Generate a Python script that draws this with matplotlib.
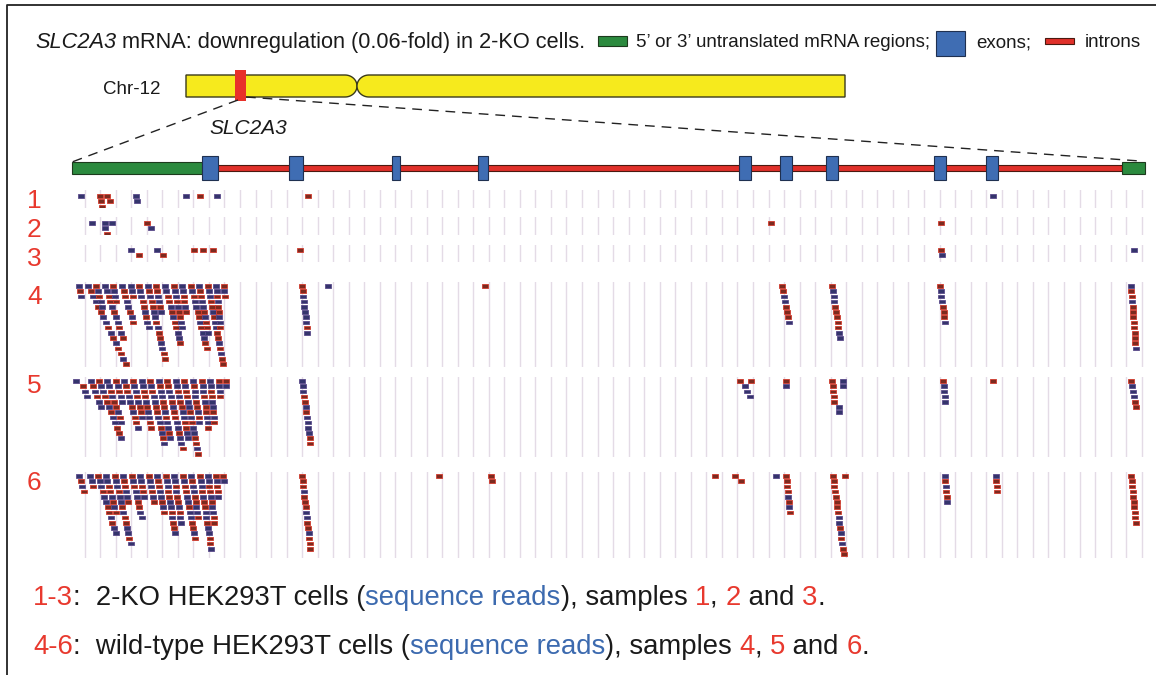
import numpy as np
import matplotlib
matplotlib.use("Agg")
import matplotlib.pyplot as plt
from matplotlib.patches import Rectangle, Polygon
from matplotlib.font_manager import FontProperties

plt.rcParams['font.family'] = ['Liberation Sans', 'DejaVu Sans']

W, H = 1156, 675

# =============================================
# Data (x in gene-track pixel coordinates)
# =============================================

EXON_START = [202, 289, 392, 478, 739, 780, 826, 934, 986]
EXON_END = [218, 303, 400, 488, 751, 792, 838, 946, 998]
UTR_LEFT = (72, 202)
UTR_RIGHT = (1122, 1145)

# reads: (x of first read, first row, number of reads, shift per row, strand colours)
TRACK1 = [(78, 0, 1, 0, "b"), (97, 0, 1, 0, "r"), (104, 0, 1, 0, "r"), (133, 0, 2, 1, "bb"),
          (183, 0, 1, 0, "b"), (197, 0, 1, 0, "r"), (214, 0, 1, 0, "b"), (305, 0, 1, 0, "r"),
          (990, 0, 1, 0, "b"), (98, 1, 2, 0.5, "rr"), (107, 1, 1, 0, "r")]
TRACK2 = [(89, 0, 1, 0, "b"), (102, 0, 2, 0, "bb"), (109, 0, 1, 0, "b"), (144, 0, 2, 4, "rb"),
          (768, 0, 1, 0, "r"), (938, 0, 1, 0, "r"), (104, 2, 1, 0, "r")]
TRACK3 = [(128, 0, 2, 8, "br"), (154, 0, 2, 6, "br"), (191, 0, 1, 0, "r"), (200, 0, 1, 0, "r"),
          (210, 0, 1, 0, "r"), (297, 0, 1, 0, "r"), (938, 0, 2, 1, "rb"), (1131, 0, 1, 0, "b")]
TRACK4 = [(76, 0, 3, 1.0, "brb"), (85, 0, 16, 2.5, "brbbrrbbrbrbrrbr"), (93, 0, 5, 1.5, "rbrbb"),
          (102, 0, 11, 1.8, "bbrrbrbbrbr"), (110, 0, 4, 1.0, "rbbr"), (119, 0, 8, 1.6, "brrbbrbr"),
          (128, 0, 3, 1.0, "bbr"), (136, 0, 9, 1.2, "rbbrrbrbb"), (145, 0, 15, 1.2, "brbrrbbrbrrbbrr"),
          (153, 0, 6, 1.0, "rrbbrb"), (162, 0, 12, 1.4, "bbrrbrbrrbbr"), (171, 0, 9, 1.0, "rbbrbrrbb"),
          (179, 0, 6, 0.8, "bbrrbr"), (188, 0, 13, 1.3, "rbrbbrrbrbbrr"), (196, 0, 10, 1.0, "brrbbrbrrb"),
          (205, 0, 16, 1.0, "rbbrrbrbbrrbrbrr"), (213, 0, 9, 0.5, "bbrbrrbbr"), (221, 0, 3, 0.3, "rbr"),
          (299, 0, 10, 0.6, "rrbbbbbbrb"), (325, 0, 1, 0, "b"), (482, 0, 1, 0, "r"),
          (779, 0, 8, 1.0, "rrbbrrrb"), (829, 0, 11, 0.8, "rbbbrrrrrbb"), (937, 0, 8, 0.7, "rbbbrrrb"),
          (1128, 0, 13, 0.4, "brrbrrrrrrrrb")]
TRACK5 = [(73, 0, 1, 0, "b"), (80, 1, 3, 2.0, "rbb"), (88, 0, 6, 2.0, "brbrbb"), (96, 0, 12, 2.0, "rbbrrbrbbrrb"),
          (104, 0, 9, 1.8, "bbrbrrbrb"), (113, 0, 5, 1.5, "rbrbb"), (121, 0, 10, 1.5, "brrbbrbrrb"),
          (130, 0, 8, 1.3, "rbbrbrrb"), (139, 0, 10, 1.0, "bbrrbrbbrr"), (147, 0, 13, 1.2, "rbrbbrrbbrbrb"),
          (156, 0, 12, 1.0, "brbbrrbrbbrb"), (164, 0, 14, 1.2, "rrbbrbrrbbrbbr"), (173, 0, 12, 1.1, "bbrbrrbbrrbb"),
          (181, 0, 15, 1.0, "rbrrbbrbrbbrrbr"), (190, 0, 9, 0.8, "brbbrrbrb"), (199, 0, 10, 0.7, "rbbrbrrbbr"),
          (207, 0, 9, 0.5, "bbrrbbrbr"), (216, 0, 4, 0.3, "rbbr"), (223, 0, 2, 0.3, "rb"),
          (299, 0, 13, 0.7, "bbbrrbrbbbbrr"),
          (737, 0, 1, 0, "r"), (748, 0, 1, 0, "r"), (742, 1, 3, 2.3, "bbb"), (783, 0, 2, 0, "rb"),
          (829, 0, 5, 0.5, "rrrrr"), (836, 5, 2, 0, "bb"), (840, 0, 2, 0, "bb"), (940, 0, 5, 0.5, "rbbbb"),
          (990, 0, 1, 0, "r"), (1128, 0, 6, 1.0, "rbbbrr")]
TRACK6 = [(76, 0, 4, 1.5, "brbr"), (87, 0, 3, 1.5, "bbr"), (95, 0, 12, 1.6, "rbbrbbrrbrbb"),
          (103, 0, 8, 1.4, "bbrrbrbr"), (112, 0, 14, 1.2, "rbbrbbrbrrbbrb"), (120, 0, 6, 1.0, "brrbbr"),
          (129, 0, 9, 1.2, "rbrbbrrbb"), (137, 0, 5, 1.0, "bbrrb"), (146, 0, 6, 1.0, "rbbrbr"),
          (154, 0, 8, 1.0, "brrbbrbr"), (163, 0, 12, 0.8, "rbbrrbbrbrrb"), (171, 0, 10, 0.8, "bbrbrrbrbb"),
          (180, 0, 13, 1.0, "rbrrbbrbbrrbr"), (188, 0, 9, 0.9, "brbbrrbbr"), (197, 0, 15, 0.8, "rbbrbrrbbrbbrrb"),
          (205, 0, 10, 0.7, "bbrrbrbbrr"), (213, 0, 5, 0.5, "rbrrb"), (220, 0, 2, 0.5, "rb"),
          (299, 0, 15, 0.6, "rrrbrrrbbrrbrrr"), (436, 0, 1, 0, "r"), (488, 0, 2, 0.5, "rr"),
          (712, 0, 1, 0, "r"), (732, 0, 1, 0, "r"), (738, 1, 1, 0, "r"), (773, 0, 1, 0, "b"),
          (783, 0, 8, 0.5, "rrrrbrbr"), (830, 0, 16, 0.7, "rrrrrrrrbbrbrbrr"), (842, 0, 1, 0, "r"),
          (942, 0, 6, 0.4, "brbrrb"), (993, 0, 4, 0.3, "brrr"), (1128, 0, 10, 0.5, "rrrrrrrrrr")]

# track: (label, reads, grid top, grid bottom, first row centre)
TRACKS = [("1", TRACK1, 190, 208, 196), ("2", TRACK2, 217, 235, 223), ("3", TRACK3, 245, 262, 250),
          ("4", TRACK4, 282, 367, 286), ("5", TRACK5, 377, 457, 381), ("6", TRACK6, 472, 558, 476)]
LABEL_Y = [208, 237, 266, 304, 393, 490]

GRID_X = np.linspace(84.5, 1141.7, 69)

DARK = "#1a1a1a"
RED = "#e8392e"
BLUE_TXT = "#3c6aaf"
GREEN = "#2b8a3e"
EXON_BLUE = "#3f6db3"
INTRON_RED = "#e0302a"
READ_FILL = {"b": "#34346c", "r": "#7c2a1f"}
READ_EDGE = {"b": "#5a4a8a", "r": "#d23a2c"}
ROW_PITCH = 5.2


def text_width(s, fp, r):
    w1, _, _ = r.get_text_width_height_descent(s + "|", fp, ismath=False)
    w2, _, _ = r.get_text_width_height_descent("|", fp, ismath=False)
    return w1 - w2


def draw_pieces(ax, x, y, pieces, size):
    r = ax.figure.canvas.get_renderer()
    for s, color, style in pieces:
        fp = FontProperties(family=["Liberation Sans"], size=size, style=style)
        ax.text(x, y, s, color=color, fontproperties=fp, va="baseline", ha="left")
        x += text_width(s, fp, r)
    return x


def arm_polygon(x0, x1, y0, y1, rounded):
    # rectangle with one end rounded like a chromosome arm
    b = (y1 - y0) / 2
    yc = y0 + b
    a = 12
    t = np.linspace(-np.pi / 2, np.pi / 2, 30)
    if rounded == "right":
        arc = np.column_stack([x1 - a + a * np.cos(t), yc + b * np.sin(t)])
        pts = [(x0, y1), (x0, y0)] + list(arc)
    else:
        arc = np.column_stack([x0 + a - a * np.cos(t), yc - b * np.sin(t)])
        pts = [(x1, y0), (x1, y1)] + list(arc)
    return Polygon(pts, closed=True, facecolor="#f6ea1d", edgecolor="#3a3a1a", lw=1.0)


fig = plt.figure(figsize=(W / 100, H / 100), dpi=100)
ax = fig.add_axes([0, 0, 1, 1])
ax.set_xlim(0, W)
ax.set_ylim(H, 0)
ax.axis("off")
rend = fig.canvas.get_renderer()

# frame
ax.plot([7, 7, W], [H, 5, 5], color="#222222", lw=1.3)

# title and legend
draw_pieces(ax, 35, 48, [("SLC2A3", DARK, "italic"),
                         (" mRNA: downregulation (0.06-fold) in 2-KO cells.", DARK, "normal")], 15.7)
leg_fp = FontProperties(family=["Liberation Sans"], size=13.5)
x = 598
ax.add_patch(Rectangle((x, 36), 29, 10, facecolor=GREEN, edgecolor="#1d3a1d", lw=0.8))
x += 38
s = "5\u2019 or 3\u2019 untranslated mRNA regions;"
ax.text(x, 47, s, fontproperties=leg_fp, color=DARK, va="baseline")
x += text_width(s, leg_fp, rend) + 6
ax.add_patch(Rectangle((x, 31), 29, 25, facecolor=EXON_BLUE, edgecolor="#1f3050", lw=0.8))
x += 40
s = "exons;"
ax.text(x, 47, s, fontproperties=leg_fp, color=DARK, va="baseline")
x += text_width(s, leg_fp, rend) + 14
ax.add_patch(Rectangle((x, 38), 29, 6, facecolor=INTRON_RED, edgecolor="#4a1a10", lw=0.8))
x += 40
ax.text(x, 47, "introns", fontproperties=leg_fp, color=DARK, va="baseline")

# chromosome
ax.text(103, 94, "Chr-12", fontsize=13.5, color=DARK, va="baseline")
ax.add_patch(arm_polygon(186, 357, 75, 97, "right"))
ax.add_patch(arm_polygon(357, 845, 75, 97, "left"))
ax.add_patch(Rectangle((235, 70), 11, 31, facecolor="#e8312a", edgecolor="none"))
ax.plot([238, 72], [100, 162], color="#222222", lw=1.0, ls=(0, (7, 5)))
ax.plot([246, 1140], [97, 161], color="#222222", lw=1.0, ls=(0, (7, 5)))
ax.text(209, 134, "SLC2A3", fontsize=15, style="italic", color=DARK, va="baseline")

# gene model
ax.add_patch(Rectangle((UTR_LEFT[1], 165), UTR_RIGHT[0] - UTR_LEFT[1], 6,
                       facecolor=INTRON_RED, edgecolor="#4a1a10", lw=0.8))
for u in (UTR_LEFT, UTR_RIGHT):
    ax.add_patch(Rectangle((u[0], 162), u[1] - u[0], 12, facecolor=GREEN, edgecolor="#1d3a1d", lw=0.8))
for s0, e0 in zip(EXON_START, EXON_END):
    ax.add_patch(Rectangle((s0, 156), e0 - s0, 24, facecolor=EXON_BLUE, edgecolor="#1f3050", lw=0.8))

# read tracks
for (label, reads, g0, g1, row0), ly in zip(TRACKS, LABEL_Y):
    tax = fig.add_axes([0, 1 - g1 / H, 1, (g1 - g0) / H])
    tax.set_xlim(0, W)
    tax.set_ylim(g1, g0)
    tax.set_xticks(GRID_X)
    tax.set_yticks([])
    tax.tick_params(length=0, labelbottom=False)
    tax.grid(True, axis="x", color="#e4dbe6", lw=1.0)
    tax.set_axisbelow(True)
    for sp in tax.spines.values():
        sp.set_visible(False)
    tax.patch.set_alpha(0)
    xs, ys, cs = [], [], []
    for x0, r0, n, shift, col in reads:
        for i in range(n):
            xs.append(x0 + i * shift)
            ys.append(row0 + (r0 + i) * ROW_PITCH)
            cs.append(col[i])
    tax.barh(ys, 6, left=xs, height=3.6,
             color=[READ_FILL[c] for c in cs], edgecolor=[READ_EDGE[c] for c in cs], lw=0.6)
    ax.text(27, ly, label, fontsize=19, color=RED, va="baseline")

# captions
draw_pieces(ax, 33, 605, [("1-3", RED, "normal"), (":  2-KO HEK293T cells (", DARK, "normal"),
                          ("sequence reads", BLUE_TXT, "normal"), ("), samples ", DARK, "normal"),
                          ("1", RED, "normal"), (", ", DARK, "normal"), ("2", RED, "normal"),
                          (" and ", DARK, "normal"), ("3", RED, "normal"), (".", DARK, "normal")], 19.8)
draw_pieces(ax, 33, 654, [("4-6", RED, "normal"), (":  wild-type HEK293T cells (", DARK, "normal"),
                          ("sequence reads", BLUE_TXT, "normal"), ("), samples ", DARK, "normal"),
                          ("4", RED, "normal"), (", ", DARK, "normal"), ("5", RED, "normal"),
                          (" and ", DARK, "normal"), ("6", RED, "normal"), (".", DARK, "normal")], 19.8)

fig.savefig("out.png", dpi=100)
